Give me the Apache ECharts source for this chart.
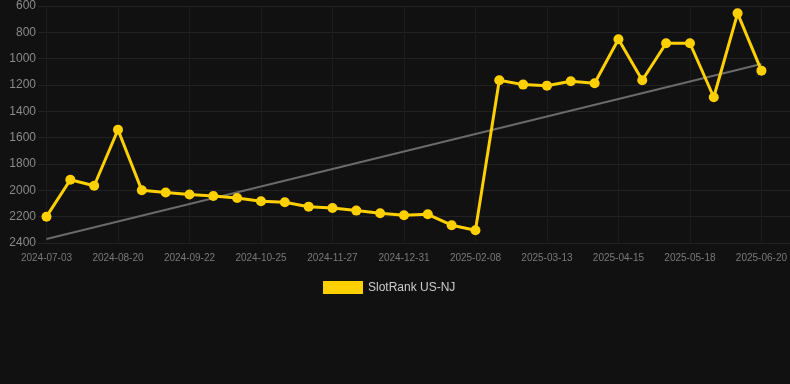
<!DOCTYPE html>
<html>
<head>
<meta charset="utf-8">
<script src="https://cdn.jsdelivr.net/npm/echarts@6/dist/echarts.min.js"></script>
<style>
  html, body { margin: 0; padding: 0; background: #111111; }
  #chart { width: 790px; height: 384px; }
</style>
</head>
<body>
<div id="chart"></div>
<script>
var dates = ['2024-07-03', '2024-07-19', '2024-08-04', '2024-08-20', '2024-08-31', '2024-09-11',
    '2024-09-22', '2024-10-03', '2024-10-14', '2024-10-25', '2024-11-05', '2024-11-16',
    '2024-11-27', '2024-12-08', '2024-12-19', '2024-12-31', '2025-01-13', '2025-01-26',
    '2025-02-08', '2025-02-19', '2025-03-02', '2025-03-13', '2025-03-24', '2025-04-04',
    '2025-04-15', '2025-04-26', '2025-05-07', '2025-05-18', '2025-05-29', '2025-06-09',
    '2025-06-20'];

var rank = [2200, 1920, 1965, 1540, 2000, 2017, 2032, 2043, 2058, 2083, 2091, 2124,
    2134, 2154, 2174, 2189, 2182, 2265, 2303, 1164, 1197, 1205, 1172, 1187,
    853, 1164, 883, 883, 1293, 656, 1091];

// trend line end points
var trend = [['2024-07-03', 2370], ['2025-06-20', 1040]];

var yMin = 600, yMax = 2400, yStep = 200;

var myChart = echarts.init(document.getElementById('chart'));

myChart.setOption({
    backgroundColor: '#111111',
    animation: false,
    grid: [
        { left: 46.5, right: 28.5, top: 6, bottom: 141 },
        { left: 38, right: 0, top: 6, bottom: 141 }
    ],
    legend: {
        data: ['SlotRank US-NJ'],
        top: 276,
        left: 318,
        icon: 'rect',
        itemWidth: 40,
        itemHeight: 13,
        textStyle: { color: '#cccccc', fontSize: 12, fontFamily: 'Liberation Sans, Arial' }
    },
    xAxis: [{
        type: 'category',
        gridIndex: 0,
        data: dates,
        boundaryGap: false,
        axisLine: { show: false },
        axisTick: { show: false },
        axisLabel: {
            interval: 2,
            color: '#7a7a7a',
            fontSize: 10,
            margin: 10,
            fontFamily: 'Liberation Sans, Arial'
        },
        splitLine: {
            show: true,
            interval: 2,
            lineStyle: { color: '#1c1c1c', width: 1 }
        }
    }, {
        type: 'value',
        gridIndex: 1,
        show: false
    }],
    yAxis: [{
        type: 'value',
        gridIndex: 0,
        inverse: true,
        min: yMin,
        max: yMax,
        interval: yStep,
        show: false,
        splitLine: { show: false }
    }, {
        type: 'value',
        gridIndex: 1,
        inverse: true,
        min: yMin,
        max: yMax,
        interval: yStep,
        axisLine: { show: false },
        axisTick: { show: false },
        axisLabel: {
            color: '#8a8a8a',
            fontSize: 12,
            margin: 2,
            fontFamily: 'Liberation Sans, Arial',
            formatter: function (v) { return String(v); }
        },
        splitLine: { lineStyle: { color: '#222222', width: 1 } }
    }],
    series: [{
        name: 'trend',
        type: 'line',
        xAxisIndex: 0,
        yAxisIndex: 0,
        data: trend,
        symbol: 'none',
        lineStyle: { color: '#6a6a6a', width: 2 },
        z: 1
    }, {
        name: 'SlotRank US-NJ',
        type: 'line',
        xAxisIndex: 0,
        yAxisIndex: 0,
        data: rank,
        symbol: 'circle',
        symbolSize: 10,
        itemStyle: { color: '#FFD000' },
        lineStyle: { color: '#FFD000', width: 3 },
        z: 3
    }]
});
</script>
</body>
</html>
